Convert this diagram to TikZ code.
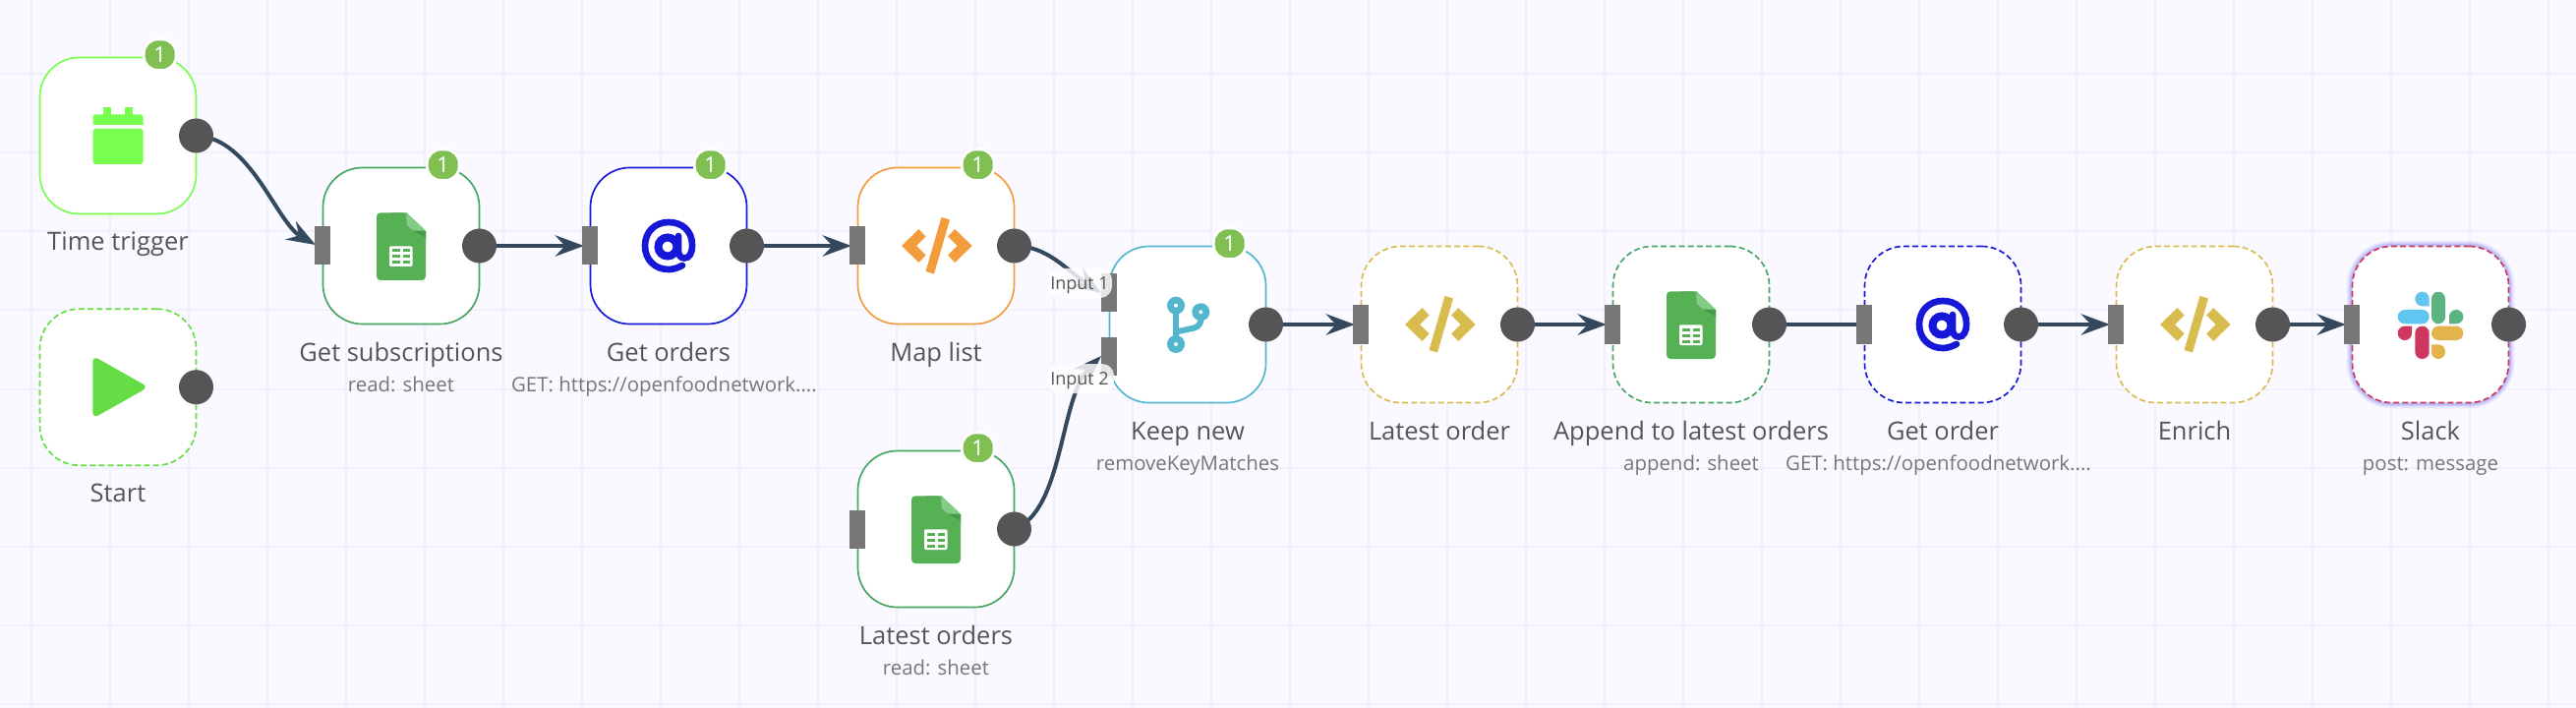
\documentclass[tikz,border=0pt]{standalone}
\usepackage{fontspec}
\setmainfont{Open Sans}
\usetikzlibrary{arrows.meta,calc}
\definecolor{bgc}{HTML}{F9F9FF}
\definecolor{gridc}{HTML}{F1F1FD}
\definecolor{wire}{HTML}{34495E}
\definecolor{portc}{HTML}{777777}
\definecolor{outc}{HTML}{555555}
\definecolor{labc}{HTML}{555555}
\definecolor{subc}{HTML}{777777}
\definecolor{badgec}{HTML}{82BF52}
\definecolor{limec}{HTML}{78FF4D}
\definecolor{playc}{HTML}{66DD44}
\definecolor{sheetc}{HTML}{46A565}
\definecolor{sheetf}{HTML}{56B155}
\definecolor{sheetl}{HTML}{84CB85}
\definecolor{sheetd}{HTML}{439A47}
\definecolor{bluec}{HTML}{1717D8}
\definecolor{orangec}{HTML}{F39C3C}
\definecolor{goldc}{HTML}{D9BC4E}
\definecolor{tealc}{HTML}{52B7CE}
\definecolor{slackr}{HTML}{CE3760}
\definecolor{slackb}{HTML}{60C5F0}
\definecolor{slackg}{HTML}{5BB381}
\definecolor{slacky}{HTML}{E3B44C}
\definecolor{glowc}{HTML}{5A5AF0}
\tikzset{
  x=0.75pt,y=-0.75pt,
  box/.style={draw=#1,line width=1.25pt,fill=white,rounded corners=30pt,minimum width=119.25pt,minimum height=119.25pt,inner sep=0pt,outer sep=0pt},
  dbox/.style={box=#1,dash pattern=on 4.5pt off 2.4pt},
  portn/.style={fill=portc,minimum width=12pt,minimum height=29.25pt,inner sep=0pt,outer sep=0pt},
  outn/.style={circle,fill=outc,minimum size=26.25pt,inner sep=0pt,outer sep=0pt},
  badge/.style={fill=badgec,draw=white,line width=2pt,rounded corners=10.5pt,minimum width=24.5pt,minimum height=23.5pt,inner sep=0pt,text=white,font=\fontsize{16.5pt}{18pt}\selectfont},
  lab/.style={anchor=base,text=labc,font=\fontsize{19.1pt}{21pt}\selectfont,inner sep=0pt},
  sublab/.style={anchor=base,text=subc,font=\fontsize{15.3pt}{17pt}\selectfont,inner sep=0pt},
  inlab/.style={anchor=base,text=labc,font=\fontsize{13.5pt}{15pt}\selectfont,inner sep=0pt},
  wirel/.style={draw=wire,line width=3pt},
  wirea/.style={wirel,-{Stealth[length=22pt,width=16pt,inset=7.5pt]}},
  veil/.style={fill=white,fill opacity=0.82,draw=none},
  calicon/.pic={
    \fill[limec] (-15,-29) rectangle (-7,-20);
    \fill[limec] (7,-29) rectangle (15,-20);
    \fill[limec,rounded corners=2pt] (-25.5,-11) -- (-25.5,-21.5) -- (25.5,-21.5) -- (25.5,-11) -- cycle;
    \fill[limec] (-25.5,-11) rectangle (25.5,-13);
    \fill[limec,rounded corners=2pt] (-25.5,-7) -- (25.5,-7) -- (25.5,29) -- (-25.5,29) -- cycle;
  },
  playicon/.pic={
    \fill[playc,rounded corners=5pt] (-25.7,-32) -- (31,0) -- (-25.7,32) -- cycle;
  },
  sheeticon/.pic={
    \fill[sheetf,rounded corners=3pt] (-25,-33.7) -- (5.3,-33.7) -- (25,-15) -- (25,35) -- (-25,35) -- cycle;
    \fill[sheetf] (-10,-33.7) -- (5.3,-33.7) -- (25,-15) -- (25,-5) -- (-10,-5) -- cycle;
    \fill[sheetd] (5.3,-20) -- (25,-15) -- (25,-8) -- (12,-15.5) -- cycle;
    \fill[sheetl,rounded corners=1pt] (5.3,-33.7) -- (25,-15.3) -- (12,-15.3) -- (5.3,-21) -- cycle;
    \fill[white,rounded corners=1pt] (-12,0.3) rectangle (11.5,21);
    \fill[sheetf] (-9,3.5) rectangle (-1.5,6.5);
    \fill[sheetf] (1.5,3.5) rectangle (9,6.5);
    \fill[sheetf] (-9,9.5) rectangle (-1.5,12.5);
    \fill[sheetf] (1.5,9.5) rectangle (9,12.5);
    \fill[sheetf] (-9,15.5) rectangle (-1.5,18.5);
    \fill[sheetf] (1.5,15.5) rectangle (9,18.5);
  },
  codeicon/.pic={
    \fill[pic actions] (-35,0) -- (-17.5,-17) -- (-10.5,-9.5) -- (-20,0) -- (-10.5,9.5) -- (-17.5,17) -- cycle;
    \fill[pic actions] (36.7,0) -- (19.2,-17) -- (12.2,-9.5) -- (21.7,0) -- (12.2,9.5) -- (19.2,17) -- cycle;
    \fill[pic actions] (5.5,-29) -- (14,-26.5) -- (-2,28.5) -- (-10.5,26) -- cycle;
  },
  aticon/.pic={
    \draw[bluec,line width=5pt,line cap=round] (14,20) .. controls (8,23) and (4,24) .. (0,24) .. controls (-14,24) and (-24,14) .. (-24,0) .. controls (-24,-14) and (-14,-24) .. (0,-24) .. controls (14,-24) and (24,-15) .. (24,-1) .. controls (24,8) and (21,12.5) .. (16,12.5) .. controls (12,12.5) and (10,9) .. (10,5) -- (10,-10);
    \draw[bluec,line width=6pt] (-1,1) circle[radius=9.5];
  },
  forkicon/.pic={
    \draw[tealc,line width=4.5pt] (-12,-19) -- (-12,20);
    \draw[tealc,line width=4.5pt] (13.3,-12.7) -- (13.3,-6) .. controls (13.3,2) and (8,3.5) .. (3,4.3) -- (-12,7.5);
    \foreach \p in {(-12,-19.3),(-12,20),(13.3,-12.7)} {
      \fill[tealc] \p circle[radius=9];
      \fill[white] \p circle[radius=2];
    }
  },
}
\begin{document}
\begin{tikzpicture}
\useasboundingbox (0,0) rectangle (2620,720);
\fill[bgc] (0,0) rectangle (2620,720);
\foreach \gx in {32,112,...,2592} {\draw[gridc,line width=1.5pt] (\gx,0) -- (\gx,720);}
\foreach \gy in {-4.5,75.5,155.5,235.5,315.5,395.5,475.5,555.5,635.5,715.5} {\draw[gridc,line width=1.5pt] (0,\gy) -- (2620,\gy);}

% anchor coordinates for ports
\foreach \nm/\cx/\cy in {tt/120/138,st/120/393.7,gs/408/250,go/680/250,ml/952/250,kn/1208/330,lo/952/538,lr/1464/330,ap/1720/330,gr/1976/330,en/2232/330,sl/2472/330}{
  \coordinate (\nm-c) at (\cx,\cy);
}
\foreach \nm in {tt,st,gs,go,ml,kn,lo,lr,ap,gr,en,sl}{
  \coordinate (\nm-o) at ($(\nm-c)+(79.5,0)$);
}
\foreach \nm in {gs,go,ml,lo,lr,ap,gr,en,sl}{
  \coordinate (\nm-i) at ($(\nm-c)+(-88,0)$);
}
\coordinate (kn-i1) at ($(kn-c)+(-88,-32)$);
\coordinate (kn-i2) at ($(kn-c)+(-88,32)$);

% connectors
\draw[wirea] (tt-o) .. controls +(55.5,2) and +(-40,-23) .. ($(gs-i)+(1,-1)$);
\draw[wirea] (gs-o) -- ($(go-i)+(2,0)$);
\draw[wirea] (go-o) -- ($(ml-i)+(2,0)$);
\draw[wirea] (ml-o) .. controls +(34,0) and +(-35,-23) .. (kn-i1);
\draw[wirea] (lo-o) .. controls +(50,-18) and +(-42,42) .. (kn-i2);
\draw[wirea] (kn-o) -- ($(lr-i)+(2,0)$);
\draw[wirea] (lr-o) -- ($(ap-i)+(2,0)$);
\draw[wirel] (ap-o) -- (gr-i);
\draw[wirea] (gr-o) -- ($(en-i)+(2,0)$);
\draw[wirea] (en-o) -- ($(sl-i)+(2,0)$);

% slack glow
\foreach \w/\op in {9/0.07,7/0.09,5/0.12,3.5/0.16}{
  \draw[glowc,opacity=\op,line width=\w pt,rounded corners=30pt] ($(sl-c)+(-79.5,-79.5)$) rectangle ($(sl-c)+(79.5,79.5)$);
}

% boxes
\node[box=limec] (tt) at (tt-c) {};
\node[dbox=playc] (st) at (st-c) {};
\node[box=sheetc] (gs) at (gs-c) {};
\node[box=bluec] (go) at (go-c) {};
\node[box=orangec] (ml) at (ml-c) {};
\node[box=tealc] (kn) at (kn-c) {};
\node[box=sheetc] (lo) at (lo-c) {};
\node[dbox=goldc] (lr) at (lr-c) {};
\node[dbox=sheetc] (ap) at (ap-c) {};
\node[dbox=bluec] (gr) at (gr-c) {};
\node[dbox=goldc] (en) at (en-c) {};
\node[dbox=slackr] (sl) at (sl-c) {};

% icons
\pic at (tt-c) {calicon};
\pic at (st-c) {playicon};
\pic at (gs-c) {sheeticon};
\pic at (lo-c) {sheeticon};
\pic at (ap-c) {sheeticon};
\pic[fill=orangec] at (ml-c) {codeicon};
\pic[fill=goldc] at (lr-c) {codeicon};
\pic[fill=goldc] at (en-c) {codeicon};
\pic at (go-c) {aticon};
\pic at (gr-c) {aticon};
\pic at (kn-c) {forkicon};
\begin{scope}[shift={(sl-c)}]
  \fill[slackb,rounded corners=5.3pt] (-33.3,-15) rectangle (-1.3,-0.7);
  \fill[slackg,rounded corners=5.3pt] (1,-33.3) rectangle (15,-0.7);
  \fill[slacky,rounded corners=5.3pt] (1,1.7) rectangle (33.3,16);
  \fill[slackr,rounded corners=5.3pt] (-15.7,1.7) rectangle (-1.3,35);
  \fill[slackb,rounded corners=5.3pt] (-1.3,-18.7) -- (-15.6,-18.7) -- (-15.6,-33.3) -- (-1.3,-33.3) -- (-1.3,-18.7);
  \fill[slackg,rounded corners=5.3pt] (19,-0.7) -- (19,-15) -- (33.3,-15) -- (33.3,-0.7) -- (19,-0.7);
  \fill[slacky,rounded corners=5.3pt] (1,20.3) -- (15,20.3) -- (15,35) -- (1,35) -- (1,20.3);
  \fill[slackr,rounded corners=5.3pt] (-19,1.7) -- (-19,16) -- (-33.3,16) -- (-33.3,1.7) -- (-19,1.7);
\end{scope}

% ports
\foreach \nm in {gs,go,ml,lo,lr,ap,gr,en,sl}{
  \node[portn] (\nm-in) at ($(\nm-c)+(-80,0)$) {};
}
\node[portn] (kn-in1) at ($(kn-c)+(-80,-32)$) {};
\node[portn] (kn-in2) at ($(kn-c)+(-80,32)$) {};
\foreach \nm in {tt,st,gs,go,ml,kn,lo,lr,ap,gr,en,sl}{
  \node[outn] (\nm-out) at (\nm-o) {};
}

% badges
\foreach \nm in {tt,gs,go,ml,kn,lo}{
  \node[badge] (\nm-b) at ($(\nm-c)+(42.7,-82.3)$) {1};
}

% input labels
\fill[veil,rounded corners=9pt] (1066,273) rectangle (1131,303);
\fill[veil,rounded corners=9pt] (1066,370) rectangle (1133,400);
\node[inlab] (i1) at (1098,295) {Input 1};
\node[inlab] (i2) at (1098,391.7) {Input 2};

% labels
\foreach \nm/\t in {tt/Time trigger,st/Start,gs/Get subscriptions,go/Get orders,ml/Map list,kn/Keep new,lo/Latest orders,lr/Latest order,ap/Append to latest orders,gr/Get order,en/Enrich,sl/Slack}{
  \node[lab] (\nm-l) at ($(\nm-c)+(0,117)$) {\t};
}
\node[sublab] (gs-s) at ($(gs-c)+(0,148.7)$) {read: sheet};
\node[sublab] (go-s) at ($(go-c)+(-4.5,148.7)$) {GET: https://openfoodnetwork....};
\node[sublab] (kn-s) at ($(kn-c)+(0,148.7)$) {removeKeyMatches};
\node[sublab] (lo-s) at ($(lo-c)+(0,148.7)$) {read: sheet};
\node[sublab] (ap-s) at ($(ap-c)+(0,148.7)$) {append: sheet};
\node[sublab] (gr-s) at ($(gr-c)+(-4.5,148.7)$) {GET: https://openfoodnetwork....};
\node[sublab] (sl-s) at ($(sl-c)+(0,148.7)$) {post: message};
\end{tikzpicture}
\end{document}
